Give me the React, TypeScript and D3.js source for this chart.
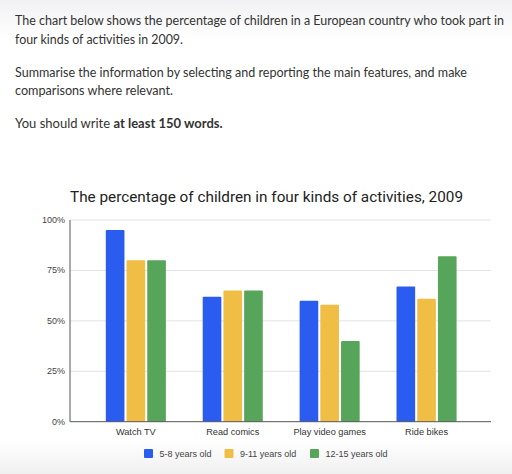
import React from "react";
import * as d3 from "d3";

const categories = ["Watch TV", "Read comics", "Play video games", "Ride bikes"];
const seriesNames = ["5-8 years old", "9-11 years old", "12-15 years old"];
const age5to8 = [95, 62, 60, 67];
const age9to11 = [80, 65, 58, 61];
const age12to15 = [80, 65, 40, 82];
const yTicks = [0, 25, 50, 75, 100];
const colors = ["#2a5cf0", "#f0bd45", "#57a55a"];

const headerLines = [
  { text: "The chart below shows the percentage of children in a European country who took part in", y: 25, w: 489 },
  { text: "four kinds of activities in 2009.", y: 43.5, w: 168 },
  { text: "Summarise the information by selecting and reporting the main features, and make", y: 77, w: 452 },
  { text: "comparisons where relevant.", y: 95, w: 158 },
];

export default function App() {
  const series = [age5to8, age9to11, age12to15];
  const x0 = d3.scaleBand<string>().domain(categories).range([87.4, 475]).paddingInner(0.38).paddingOuter(0.19);
  const x1 = d3.scaleBand<string>().domain(seriesNames).range([0, x0.bandwidth()]).paddingInner(0.1);
  const y = d3.scaleLinear().domain([0, 100]).range([421.7, 220]);
  const gridL = 70;
  const gridR = 491;

  const legendX = [144, 224.5, 310];
  const font = "'Liberation Sans', Arial, sans-serif";

  return (
    <svg width={512} height={474} style={{ position: "absolute", left: 0, top: 0, background: "#fff" }}>
      <defs>
        <linearGradient id="topG" x1="0" y1="0" x2="0" y2="1">
          <stop offset="0" stopColor="#f1f1f3" />
          <stop offset="1" stopColor="#ffffff" />
        </linearGradient>
        <linearGradient id="botG" x1="0" y1="0" x2="0" y2="1">
          <stop offset="0" stopColor="#ffffff" />
          <stop offset="1" stopColor="#f0f0f0" />
        </linearGradient>
      </defs>
      <rect x={0} y={0} width={512} height={40} fill="url(#topG)" />
      <rect x={0} y={440} width={512} height={34} fill="url(#botG)" />

      {headerLines.map((l, i) => (
        <text key={i} x={15} y={l.y} fontFamily="Lato, 'Noto Sans', sans-serif" fontSize={12.5} fill="#333"
          textLength={l.w} lengthAdjust="spacingAndGlyphs">{l.text}</text>
      ))}
      <text x={15} y={128} fontFamily="Lato, 'Noto Sans', sans-serif" fontSize={13} fill="#333">
        <tspan>You should write </tspan>
        <tspan fontWeight="bold">at least 150 words.</tspan>
      </text>

      <text x={70} y={201.5} fontFamily="Roboto, Arial, sans-serif" fontSize={15} fill="#222"
        textLength={393} lengthAdjust="spacingAndGlyphs">
        The percentage of children in four kinds of activities, 2009
      </text>

      {yTicks.map((t) => (
        <g key={t}>
          {t > 0 && <line x1={gridL} x2={gridR} y1={y(t)} y2={y(t)} stroke="#e2e2e2" strokeWidth={1} />}
          <text x={65} y={y(t) + 3} textAnchor="end" fontFamily={font} fontSize={9} fill="#444">{t}%</text>
        </g>
      ))}

      {categories.map((c, ci) => (
        <g key={c} transform={`translate(${x0(c)},0)`}>
          {seriesNames.map((s, si) => (
            <rect key={s} x={x1(s)} y={y(series[si][ci])} width={x1.bandwidth()}
              height={y(0) - y(series[si][ci])} fill={colors[si]} rx={1} />
          ))}
        </g>
      ))}

      <line x1={gridL} x2={gridL} y1={y(100)} y2={y(0)} stroke="#555" strokeWidth={1} />
      <line x1={gridL} x2={gridR} y1={y(0)} y2={y(0)} stroke="#555" strokeWidth={1} />

      {categories.map((c) => (
        <text key={c} x={(x0(c) as number) + x0.bandwidth() / 2} y={435} textAnchor="middle"
          fontFamily={font} fontSize={9.2} fill="#333">{c}</text>
      ))}

      {seriesNames.map((s, i) => (
        <g key={s}>
          <rect x={legendX[i]} y={449} width={9} height={9} fill={colors[i]} rx={1} />
          <text x={legendX[i] + 15.5} y={456.5} fontFamily={font} fontSize={9} fill="#444">{s}</text>
        </g>
      ))}
    </svg>
  );
}
